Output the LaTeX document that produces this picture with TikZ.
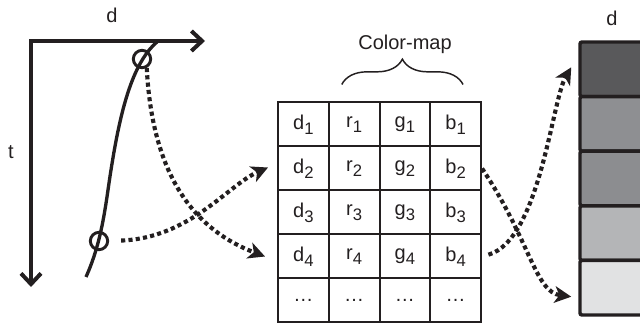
\documentclass[tikz,border=0pt]{standalone}
\usepackage{fontspec}
\setmainfont{Liberation Sans}
\usetikzlibrary{arrows.meta,decorations.pathreplacing,calc}

\definecolor{ink}{HTML}{231F20}
\definecolor{toneA}{HTML}{59595B}
\definecolor{toneB}{HTML}{8E8F92}
\definecolor{toneC}{HTML}{8C8D90}
\definecolor{toneD}{HTML}{B4B5B7}
\definecolor{toneE}{HTML}{E1E2E3}

% value with a lowered index
\newcommand\idx[2]{#1\raisebox{-3.6pt}{\fontsize{12.5}{13}\selectfont #2}}

\begin{document}
\begin{tikzpicture}[x=0.75pt,y=-0.75pt,
  every node/.style={font=\fontsize{15}{18}\selectfont, text=ink},
  axis/.style={ink, line width=3pt, line join=miter,
    arrows={Straight Barb[length=8pt,width=15pt]-Straight Barb[length=8pt,width=15pt]}},
  trace/.style={ink, line width=2.5pt},
  probe/.style={circle, draw=ink, line width=2.2pt, minimum size=13pt, inner sep=0pt},
  dotarrow/.style={ink, line width=3.1pt, dash pattern=on 3.1pt off 2.4pt,
    -{Stealth[length=12.5pt,width=12.5pt,inset=3.5pt]}},
  cell/.style={draw=ink, line width=1.5pt, minimum width=38.06pt,
    minimum height=33pt, inner sep=0pt, anchor=center},
  band/.style={draw=ink, line width=2.6pt, minimum width=75pt,
    minimum height=40.95pt, inner sep=0pt, rounded corners=1.5pt},
  tag/.style={inner sep=1pt}]
\useasboundingbox (0,0) rectangle (640,324);

% --- distance/time axes ---
\coordinate (origin) at (31,41);
\coordinate (dend) at (205,41);
\coordinate (tend) at (31,287);
\draw[axis] (dend) -- (origin) -- (tend);
\node[tag] (dlabel) at (112,15) {d};
\node[tag] (tlabel) at (11,152) {t};

% --- trace with two sample points ---
\coordinate (trtop) at (157,42);
\coordinate (trmid) at (108,190);
\coordinate (trbot) at (86,277);
\draw[trace] (trtop) .. controls (130,65) and (118,120) .. (trmid)
  .. controls (103,225) and (98,250) .. (trbot);
\node[probe] (p1) at (142,59) {};
\node[probe] (p2) at (99,241) {};

% --- colour-map table ---
\foreach \row [count=\i from 0] in {
  {\idx{d}{1},\idx{r}{1},\idx{g}{1},\idx{b}{1}},
  {\idx{d}{2},\idx{r}{2},\idx{g}{2},\idx{b}{2}},
  {\idx{d}{3},\idx{r}{3},\idx{g}{3},\idx{b}{3}},
  {\idx{d}{4},\idx{r}{4},\idx{g}{4},\idx{b}{4}},
  {…,…,…,…}} {
  \foreach \txt [count=\j from 0] in \row {
    \pgfmathtruncatemacro\rr{\i+1}
    \pgfmathtruncatemacro\cc{\j+1}
    \node[cell] (tab-\rr-\cc) at (303.4+50.75*\j, 124.5+44*\i) {\txt};
  }
}

% brace over the colour columns
\coordinate (brl) at ($(tab-1-2.north west)+(14,-17)$);
\coordinate (brr) at ($(tab-1-4.north east)+(-19,-17)$);
\draw[ink, line width=1.1pt, decorate, decoration={brace, amplitude=19pt}]
  (brl) -- (brr);
\node[tag] (cmap) at (405,44) {Color-map};

% --- coloured depth column ---
\node[tag] (dright) at (612,18) {d};
\foreach \col [count=\k from 0] in {toneA,toneB,toneC,toneD,toneE} {
  \pgfmathtruncatemacro\kk{\k+1}
  \node[band, fill=\col] (band\kk) at (630, 69.3+54.6*\k) {};
}

% --- lookup arrows ---
\draw[dotarrow] (p1.-62) .. controls (152,170) and (190,228) ..
  ($(tab-4-1.west)+(-12,0)$);
\draw[dotarrow, shorten <=9pt] (p2.east) .. controls (190,238) and (228,185) ..
  ($(tab-2-1.west)+(-9,-1)$);
\draw[dotarrow] (tab-2-4.east) .. controls (530,240) and (535,292) ..
  ($(band5.west)+(-7,9)$);
\draw[dotarrow, shorten <=5pt] (tab-4-4.east) .. controls (540,240) and (552,100) ..
  ($(band1.west)+(-7,-2)$);
\end{tikzpicture}
\end{document}
